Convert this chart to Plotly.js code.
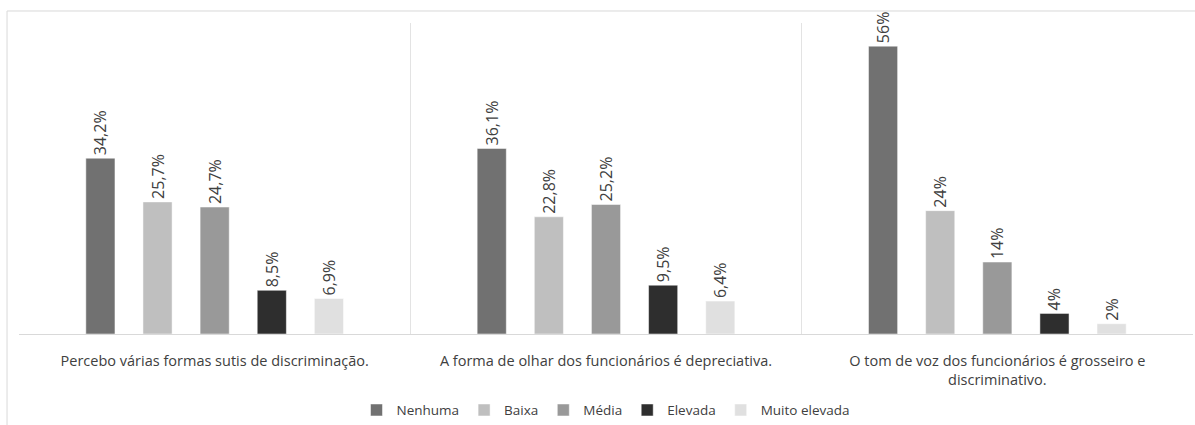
<!DOCTYPE html>
<html>
<head>
<meta charset="utf-8">
<script src="https://cdn.plot.ly/plotly-3.0.1.min.js"></script>
<style>html,body{margin:0;padding:0;background:#fff;}#chart{width:1195px;height:425px;}</style>
</head>
<body>
<div id="chart"></div>
<script>
var categories = [
  "Percebo várias formas sutis de discriminação.",
  "A forma de olhar dos funcionários é depreciativa.",
  "O tom de voz dos funcionários é grosseiro e<br>discriminativo."
];
var seriesNames = ["Nenhuma", "Baixa", "Média", "Elevada", "Muito elevada"];
var nenhuma = [34.2, 36.1, 56];
var baixa = [25.7, 22.8, 24];
var media = [24.7, 25.2, 14];
var elevada = [8.5, 9.5, 4];
var muitoElevada = [6.9, 6.4, 2];
var seriesColors = ["#717171", "#bfbfbf", "#999999", "#2e2e2e", "#e0e0e0"];

var allSeries = [nenhuma, baixa, media, elevada, muitoElevada];
function fmt(v) { return String(v).replace('.', ',') + '%'; }

var traces = allSeries.map(function (vals, i) {
  return {
    type: 'bar',
    name: seriesNames[i],
    x: categories,
    y: vals,
    text: vals.map(fmt),
    textposition: 'outside',
    textangle: -90,
    constraintext: 'none',
    cliponaxis: false,
    textfont: {family: 'Open Sans, sans-serif', size: 16, color: '#404040'},
    marker: {color: seriesColors[i], line: {color: '#ffffff', width: 0.5}},
    hoverinfo: 'none'
  };
});

var layout = {
  width: 1195,
  height: 425,
  margin: {l: 19, r: 2, t: 23, b: 91, autoexpand: false},
  paper_bgcolor: '#ffffff',
  plot_bgcolor: '#ffffff',
  font: {family: 'Open Sans, sans-serif', size: 14, color: '#404040'},
  barmode: 'group',
  bargap: 0.27,
  bargroupgap: 0.49,
  showlegend: true,
  legend: {
    orientation: 'h',
    x: 0.5, xanchor: 'center',
    y: -0.245, yanchor: 'middle',
    font: {size: 13.5, color: '#404040'},
    itemwidth: 30,
    traceorder: 'normal'
  },
  xaxis: {
    type: 'category',
    range: [-0.5, 2.5],
    tickson: 'boundaries',
    ticks: '',
    ticklabelstandoff: 14,
    showgrid: true,
    gridcolor: '#e3e3e3',
    gridwidth: 1,
    showline: true,
    linecolor: '#d9d9d9',
    linewidth: 1,
    tickfont: {size: 14.5, color: '#404040'},
    automargin: false,
    fixedrange: true
  },
  yaxis: {
    range: [0, 60.5],
    showgrid: false,
    zeroline: false,
    showticklabels: false,
    ticks: '',
    automargin: false,
    fixedrange: true
  },
  shapes: [
    {type: 'line', xref: 'paper', yref: 'paper', x0: -0.0102, x1: -0.0102, y0: 1.0386, y1: -0.5, line: {color: '#d9d9d9', width: 1}},
    {type: 'line', xref: 'paper', yref: 'paper', x0: -0.0102, x1: 1.01, y0: 1.0386, y1: 1.0386, line: {color: '#d9d9d9', width: 1}}
  ]
};

Plotly.newPlot('chart', traces, layout, {displayModeBar: false, staticPlot: true});
</script>
</body>
</html>
